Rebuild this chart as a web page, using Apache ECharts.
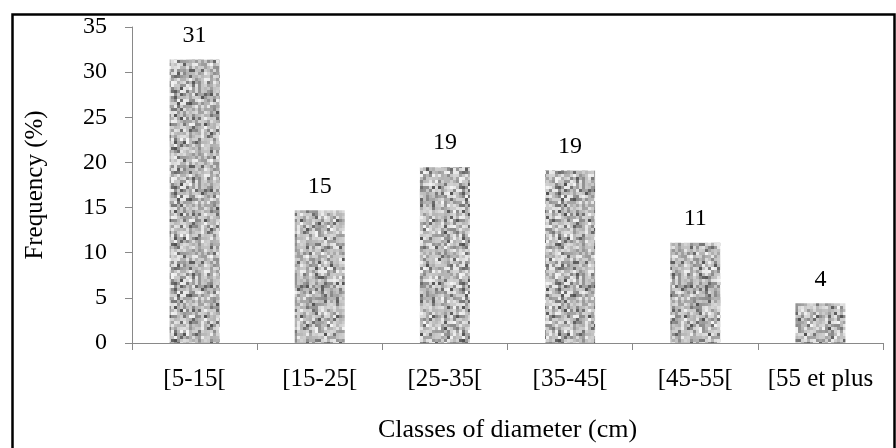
<!DOCTYPE html>
<html><head><meta charset="utf-8">
<script src="https://cdn.jsdelivr.net/npm/echarts@6/dist/echarts.min.js"></script>
<style>html,body{margin:0;padding:0;background:#fff}#c{width:896px;height:448px}</style>
</head><body><div id="c"></div>
<script>
const categories = ['[5-15[', '[15-25[', '[25-35[', '[35-45[', '[45-55[', '[55 et plus'];
const values = [31.4, 14.7, 19.5, 19.1, 11.1, 4.4];
const labels = ['31', '15', '19', '19', '11', '4'];
const yTicks = [0, 5, 10, 15, 20, 25, 30, 35];

// granite-like texture (deterministic hash noise, style only)
function makeTexture() {
  const size = 96, b = 3;
  const cv = document.createElement('canvas');
  cv.width = size; cv.height = size;
  const ctx = cv.getContext('2d');
  function hash(i) {
    let t = (i + 0x6D2B79F5) | 0;
    t = Math.imul(t ^ (t >>> 15), t | 1);
    t ^= t + Math.imul(t ^ (t >>> 7), t | 61);
    return ((t ^ (t >>> 14)) >>> 0) / 4294967296;
  }
  let k = 1;
  for (let y = 0; y < size; y += b) {
    for (let x = 0; x < size; x += b) {
      const r = hash(k++), q = hash(k++);
      let g;
      if (r < 0.10) g = 80 + Math.floor(q * 45);
      else if (r < 0.35) g = 135 + Math.floor(q * 35);
      else if (r < 0.75) g = 175 + Math.floor(q * 35);
      else g = 210 + Math.floor(q * 35);
      ctx.fillStyle = 'rgb(' + g + ',' + g + ',' + g + ')';
      ctx.fillRect(x, y, b, b);
    }
  }
  return cv;
}

const chart = echarts.init(document.getElementById('c'), null, {renderer: 'canvas'});
const font = 'Liberation Serif';
chart.setOption({
  animation: false,
  backgroundColor: '#fff',
  graphic: [{
    type: 'rect', left: 10, top: 12, z: 100,
    shape: {x: 0, y: 0, width: 882, height: 460},
    style: {fill: 'none', stroke: '#000', lineWidth: 2.5}
  }],
  grid: {left: 132, right: 13, top: 27, bottom: 102},
  xAxis: {
    type: 'category', data: categories,
    name: 'Classes of diameter (cm)', nameLocation: 'middle', nameGap: 74,
    nameTextStyle: {fontFamily: font, fontSize: 26, color: '#000'},
    axisLine: {lineStyle: {color: '#898989', width: 1}},
    axisTick: {show: true, length: 7, lineStyle: {color: '#898989'}},
    axisLabel: {fontFamily: font, fontSize: 25, color: '#000', margin: 24, interval: 0}
  },
  yAxis: {
    type: 'value', min: yTicks[0], max: yTicks[yTicks.length - 1], interval: 5,
    name: 'Frequency (%)', nameLocation: 'middle', nameGap: 84, nameRotate: 90,
    nameTextStyle: {fontFamily: font, fontSize: 25, color: '#000'},
    axisLine: {show: true, lineStyle: {color: '#898989', width: 1}},
    axisTick: {show: true, length: 7, lineStyle: {color: '#898989'}},
    splitLine: {show: false},
    axisLabel: {fontFamily: font, fontSize: 24, color: '#000', margin: 25}
  },
  series: [{
    type: 'bar', data: values, barWidth: 50,
    itemStyle: {color: {image: makeTexture(), repeat: 'repeat'}},
    label: {
      show: true, position: 'top', distance: 12,
      fontFamily: font, fontSize: 24, color: '#000',
      formatter: p => labels[p.dataIndex]
    }
  }]
});
</script></body></html>
